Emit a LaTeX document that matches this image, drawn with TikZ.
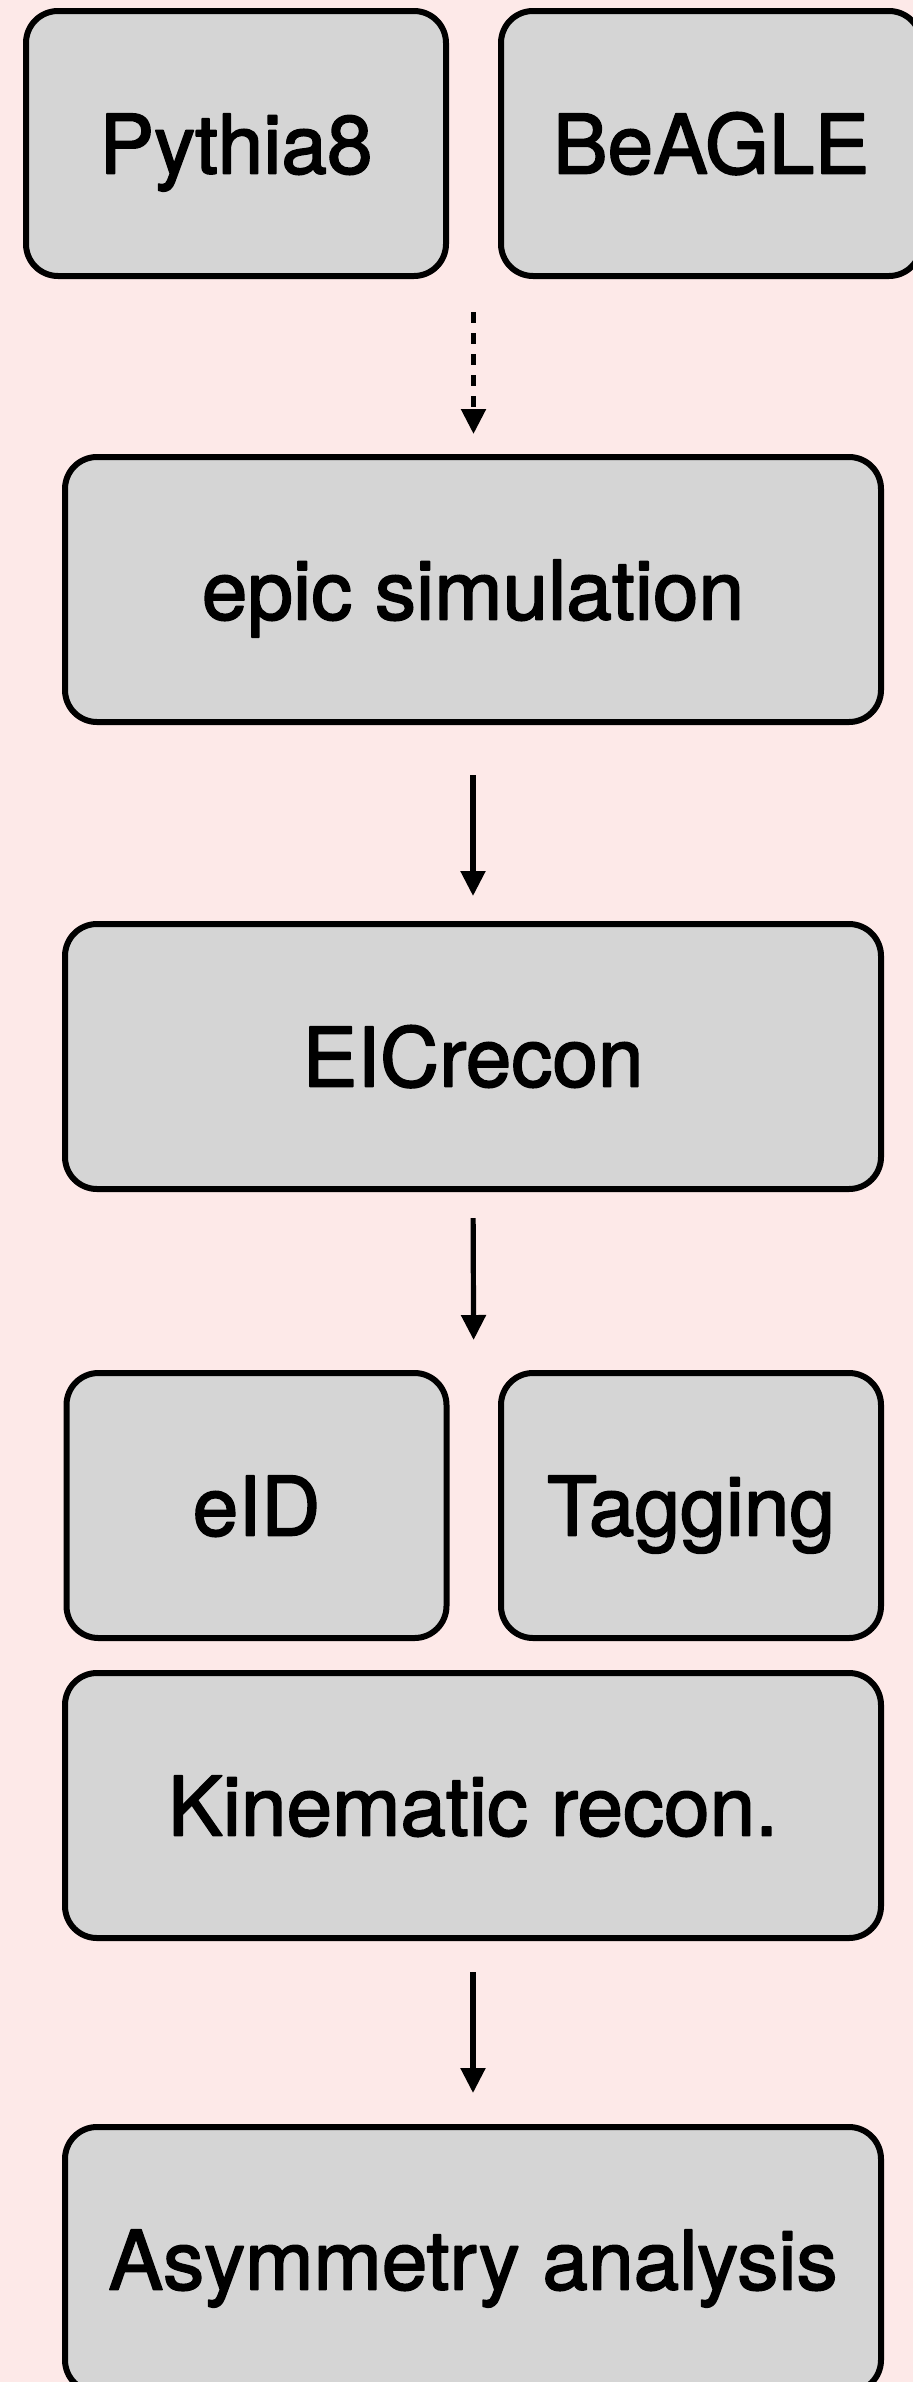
\documentclass[tikz,border=0pt]{standalone}
\usepackage{fontspec}
\setmainfont[FakeBold=2]{TeX Gyre Heros}
\usetikzlibrary{arrows.meta,calc}
\definecolor{bgpink}{HTML}{FDE9E8}
\definecolor{boxgray}{HTML}{D5D5D5}
\begin{document}
\begin{tikzpicture}[x=0.5pt,y=-0.5pt,>={Triangle[width=12pt,length=12.5pt]},line join=round,
  stage/.style={draw=black,fill=boxgray,line width=3pt,rounded corners=16pt,outer sep=0pt,
    minimum height=132.5pt,text height=30pt,text depth=0pt,
    font=\fontsize{41}{50}\selectfont},
  wide/.style={stage,minimum width=408pt},
  half/.style={stage,minimum width=210pt},
  quarter/.style={stage,minimum width=190pt},
  flow/.style={black,->,line width=2.6pt}]
%%
  \useasboundingbox [fill=bgpink] (0,0) rectangle (913,2382);
  \node (node_0) at (236,143.5) [half] {Pythia8};
  \node (node_1) at (711,143.5) [half] {BeAGLE};
  \node (node_2) at (473,589.5) [wide] {epic simulation};
  \node (node_3) at (473,1056.5) [wide] {EICrecon};
  \node (node_4) at (256.5,1505.5) [quarter] {eID};
  \node (node_5) at (691,1505.5) [quarter] {Tagging};
  \node (node_6) at (473,1805.5) [wide] {Kinematic recon.};
  \node (node_7) at (473,2259.5) [wide] {Asymmetry analysis};

  \coordinate (gen) at ($(node_0.south east)!0.5!(node_1.south west)$);
  \coordinate (split) at ($(node_4.north east)!0.5!(node_5.north west)$);

  \draw [flow,dash pattern=on 5.3pt off 5.2pt,shorten <=18pt,shorten >=11.5pt] (gen) -- (gen |- node_2.north);
  \draw [flow,shorten <=26.5pt,shorten >=14pt] (node_2.south) -- (node_3.north);
  \draw [flow,shorten <=14.5pt,shorten >=16.5pt] (node_3.south) -- (split);
  \draw [flow,shorten <=17pt,shorten >=17pt] (node_6.south) -- (node_7.north);
%
\end{tikzpicture}
\end{document}
